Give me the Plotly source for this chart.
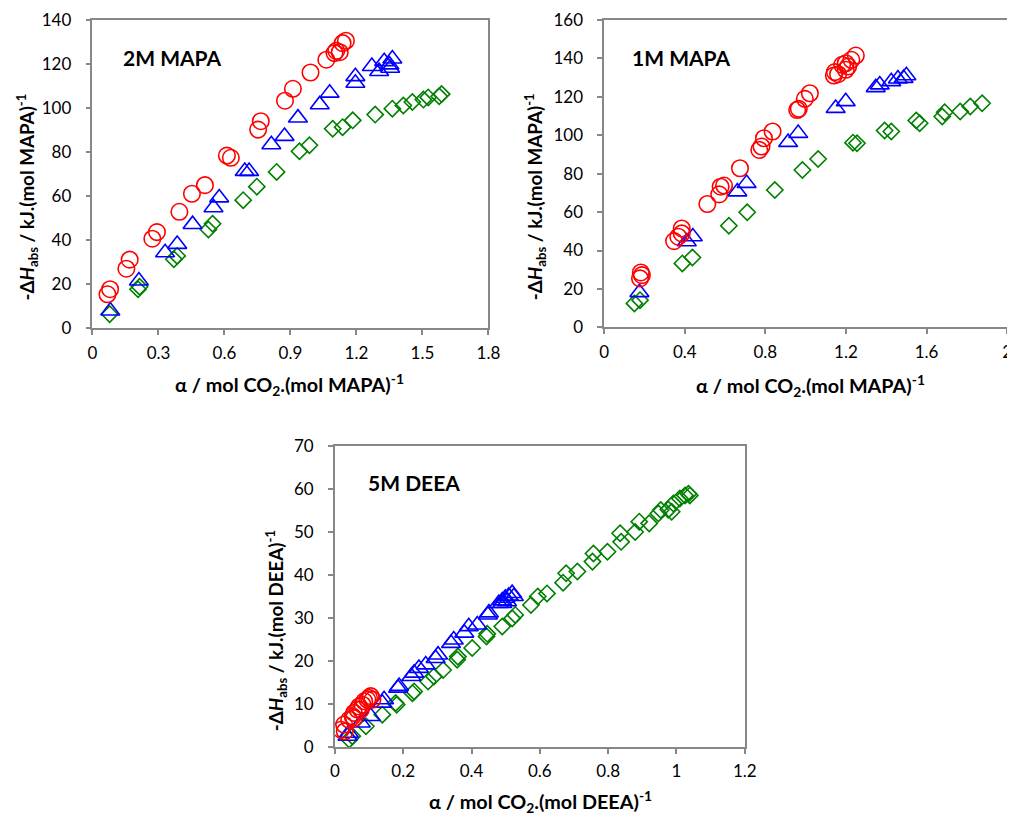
import plotly.graph_objects as go

# ---------- 2M MAPA ----------
m2_circ_x = [0.068, 0.08, 0.154, 0.169, 0.272, 0.293, 0.395, 0.452, 0.511, 0.611, 0.629, 0.753, 0.765,
             0.875, 0.911, 0.991, 1.063, 1.10, 1.108, 1.124, 1.137, 1.152]
m2_circ_y = [15.5, 17.8, 27.1, 31.2, 40.7, 43.7, 52.9, 61.1, 65.0, 78.4, 77.4, 90.2, 94.0,
             103.3, 108.7, 116.1, 121.9, 124.9, 125.9, 125.3, 129.4, 130.5]
m2_tri_x = [0.081, 0.211, 0.33, 0.385, 0.455, 0.55, 0.576, 0.692, 0.712, 0.813, 0.873, 0.934, 1.033,
            1.078, 1.195, 1.195, 1.27, 1.303, 1.326, 1.35, 1.363, 1.353]
m2_tri_y = [8.0, 21.6, 34.4, 38.2, 47.2, 54.8, 59.3, 71.3, 71.3, 83.4, 87.2, 95.5, 101.5,
            106.8, 114.3, 111.3, 118.9, 116.6, 121.1, 119.6, 122.3, 118.1]
m2_dia_x = [0.078, 0.207, 0.214, 0.37, 0.385, 0.527, 0.546, 0.685, 0.747, 0.837, 0.941, 0.986, 1.092,
            1.137, 1.183, 1.285, 1.363, 1.413, 1.454, 1.504, 1.526, 1.576, 1.587]
m2_dia_y = [6.5, 17.8, 18.9, 31.4, 32.9, 44.9, 47.5, 58.2, 64.3, 71.0, 80.4, 83.1, 90.6,
            91.3, 94.4, 97.0, 99.7, 101.1, 102.7, 103.8, 104.8, 105.3, 106.3]

# ---------- 1M MAPA ----------
m1_circ_x = [0.178, 0.187, 0.182, 0.347, 0.368, 0.385, 0.385, 0.512, 0.571, 0.578, 0.595, 0.674, 0.77,
             0.781, 0.793, 0.836, 0.958, 0.966, 0.996, 1.021, 1.14, 1.145, 1.161, 1.181, 1.199, 1.211,
             1.199, 1.227, 1.249]
m1_circ_y = [25.5, 27.2, 28.6, 44.9, 47.2, 51.5, 48.9, 64.2, 69.2, 73.2, 73.8, 82.8, 92.3,
             94.1, 98.4, 101.9, 113.1, 113.7, 118.9, 121.8, 131.0, 132.8, 131.7, 136.6, 134.0, 135.7,
             137.4, 139.2, 141.4]
m1_tri_x = [0.175, 0.41, 0.44, 0.661, 0.707, 0.913, 0.963, 1.149, 1.199, 1.348, 1.368, 1.425, 1.458,
            1.486, 1.50]
m1_tri_y = [18.2, 44.6, 47.2, 70.6, 75.0, 96.3, 101.0, 114.0, 117.5, 124.8, 126.2, 127.9, 129.3,
            129.6, 131.0]
m1_dia_x = [0.15, 0.178, 0.388, 0.438, 0.619, 0.71, 0.847, 0.984, 1.062, 1.235, 1.255, 1.392, 1.425,
            1.549, 1.566, 1.678, 1.69, 1.767, 1.817, 1.876]
m1_dia_y = [12.5, 14.2, 33.3, 36.4, 52.9, 59.9, 71.5, 81.9, 87.6, 96.1, 95.8, 102.4, 101.9,
            107.6, 106.2, 109.7, 111.9, 112.3, 114.9, 116.6]

# ---------- 5M DEEA ----------
d5_circ_x = [0.018, 0.027, 0.029, 0.042, 0.052, 0.056, 0.066, 0.071, 0.081, 0.086, 0.095, 0.10, 0.105,
             0.11, 0.076, 0.056]
d5_circ_y = [4.0, 5.2, 3.6, 6.3, 7.1, 7.9, 8.7, 9.4, 9.8, 10.6, 11.0, 11.4, 11.8,
             11.0, 8.7, 6.7]
d5_tri_x = [0.037, 0.041, 0.076, 0.105, 0.139, 0.144, 0.185, 0.188, 0.224, 0.232, 0.246, 0.266, 0.295,
            0.302, 0.34, 0.348, 0.379, 0.392, 0.417, 0.448, 0.451, 0.48, 0.49, 0.499, 0.509, 0.519,
            0.524, 0.49, 0.504]
d5_tri_y = [2.5, 3.2, 5.6, 7.1, 10.2, 11.0, 13.7, 14.1, 16.4, 17.2, 18.3, 19.1, 20.6,
            21.4, 24.1, 24.9, 26.5, 28.0, 28.4, 30.7, 31.2, 33.4, 34.0, 34.6, 35.1, 35.7,
            35.0, 33.4, 33.8]
d5_dia_x = [0.042, 0.051, 0.091, 0.139, 0.178, 0.181, 0.227, 0.232, 0.273, 0.29, 0.317, 0.358, 0.36,
            0.402, 0.444, 0.446, 0.49, 0.519, 0.528, 0.574, 0.594, 0.621, 0.668, 0.677, 0.71, 0.754,
            0.757, 0.798, 0.838, 0.835, 0.879, 0.891, 0.92, 0.947, 0.954, 0.976, 0.986, 0.991, 1.01,
            1.025, 1.035, 1.039]
d5_dia_y = [1.7, 2.5, 4.8, 7.5, 10.2, 9.8, 12.5, 12.9, 15.2, 16.4, 17.9, 20.3, 21.0,
            23.0, 25.7, 26.3, 28.0, 29.9, 30.7, 33.0, 35.0, 35.7, 38.2, 40.4, 40.8, 43.1,
            45.0, 45.4, 47.7, 49.7, 50.0, 52.4, 52.0, 54.3, 55.1, 55.2, 54.7, 56.6, 57.8,
            58.5, 58.9, 58.5]

RED, BLUE, GREEN = "#FF0000", "#0000FF", "#008000"
FONT = "Lato"

fig = go.Figure()

panels = [
    ("x", "y", (m2_circ_x, m2_circ_y), (m2_tri_x, m2_tri_y), (m2_dia_x, m2_dia_y)),
    ("x2", "y2", (m1_circ_x, m1_circ_y), (m1_tri_x, m1_tri_y), (m1_dia_x, m1_dia_y)),
    ("x3", "y3", (d5_circ_x, d5_circ_y), (d5_tri_x, d5_tri_y), (d5_dia_x, d5_dia_y)),
]
for xa, ya, circ, tri, dia in panels:
    fig.add_trace(go.Scatter(x=dia[0], y=dia[1], mode="markers", xaxis=xa, yaxis=ya,
                             marker=dict(symbol="diamond-open", size=12.5, color=GREEN,
                                         line=dict(width=1.6, color=GREEN))))
    fig.add_trace(go.Scatter(x=tri[0], y=tri[1], mode="markers", xaxis=xa, yaxis=ya,
                             marker=dict(symbol="triangle-up-open", size=16.5, color=BLUE,
                                         line=dict(width=1.6, color=BLUE))))
    fig.add_trace(go.Scatter(x=circ[0], y=circ[1], mode="markers", xaxis=xa, yaxis=ya,
                             marker=dict(symbol="circle-open", size=16.5, color=RED,
                                         line=dict(width=1.6, color=RED))))

W, H = 1015, 819
# mapping from target picture pixels to figure pixels (calibrated from previous renders)
SX, CX, SY, CY = 0.9858, 11.3, 0.978, 17.4
def fxp(r):
    return (r - CX) / SX
def fyp(r):
    return (r - CY) / SY
def clamp(v):
    return max(0.0, min(1.0, v))
def dom_x(a, b):
    return [clamp(fxp(a) / W), clamp(fxp(b) / W)]
def dom_y(top, bottom):
    return [clamp(1 - fyp(bottom) / H), clamp(1 - fyp(top) / H)]

def axis_style(standoff):
    return dict(showline=True, linecolor="#878787", linewidth=1.5, mirror=True,
                ticks="outside", ticklen=5, tickcolor="#878787", tickwidth=1.5,
                showgrid=False, zeroline=False, ticklabelstandoff=standoff,
                tickfont=dict(family=FONT, size=17, color="#000000"))

XS, YS = axis_style(3), axis_style(11)
fig.update_layout(
    width=W, height=H, margin=dict(l=0, r=0, t=0, b=0),
    paper_bgcolor="white", plot_bgcolor="white", showlegend=False,
    xaxis=dict(domain=dom_x(91, 488), range=[0, 1.8], dtick=0.3, tick0=0, anchor="y", **XS),
    yaxis=dict(domain=dom_y(18.2, 328), range=[0, 140], dtick=20, anchor="x", **YS),
    xaxis2=dict(domain=dom_x(604, 1008), range=[0, 2], dtick=0.4, tick0=0, anchor="y2", **XS),
    yaxis2=dict(domain=dom_y(18.2, 327), range=[0, 160], dtick=20, anchor="x2", **YS),
    xaxis3=dict(domain=dom_x(334, 745), range=[0, 1.2], dtick=0.2, tick0=0, anchor="y3", **XS),
    yaxis3=dict(domain=dom_y(446, 748), range=[0, 70], dtick=10, anchor="x3", **YS),
)

def ann(text, x, y, size, angle=0, xanchor="center"):
    fig.add_annotation(text=text, x=fxp(x) / W, y=1 - fyp(y) / H, xref="paper", yref="paper",
                       showarrow=False, textangle=angle, xanchor=xanchor, yanchor="middle",
                       font=dict(family=FONT, size=size, color="#000000"))

ann("<b>2M MAPA</b>", 120, 56, 21, xanchor="left")
ann("<b>1M MAPA</b>", 630, 56, 21, xanchor="left")
ann("<b>5M DEEA</b>", 365, 483, 21, xanchor="left")

ann("<b>α / mol CO<sub>2</sub>.(mol MAPA)<sup>-1</sup></b>", 289, 384, 19.8)
ann("<b>α / mol CO<sub>2</sub>.(mol MAPA)<sup>-1</sup></b>", 811, 385, 19.8)
ann("<b>α / mol CO<sub>2</sub>.(mol DEEA)<sup>-1</sup></b>", 540, 803, 19.8)

ann("<b>-Δ<i>H</i><sub>abs</sub> / kJ.(mol MAPA)<sup>-1</sup></b>", 25, 196, 18.8, angle=-90)
ann("<b>-Δ<i>H</i><sub>abs</sub> / kJ.(mol MAPA)<sup>-1</sup></b>", 535, 196, 18.8, angle=-90)
ann("<b>-Δ<i>H</i><sub>abs</sub> / kJ.(mol DEEA)<sup>-1</sup></b>", 275, 632, 18.8, angle=-90)

fig.write_html("out.html")
